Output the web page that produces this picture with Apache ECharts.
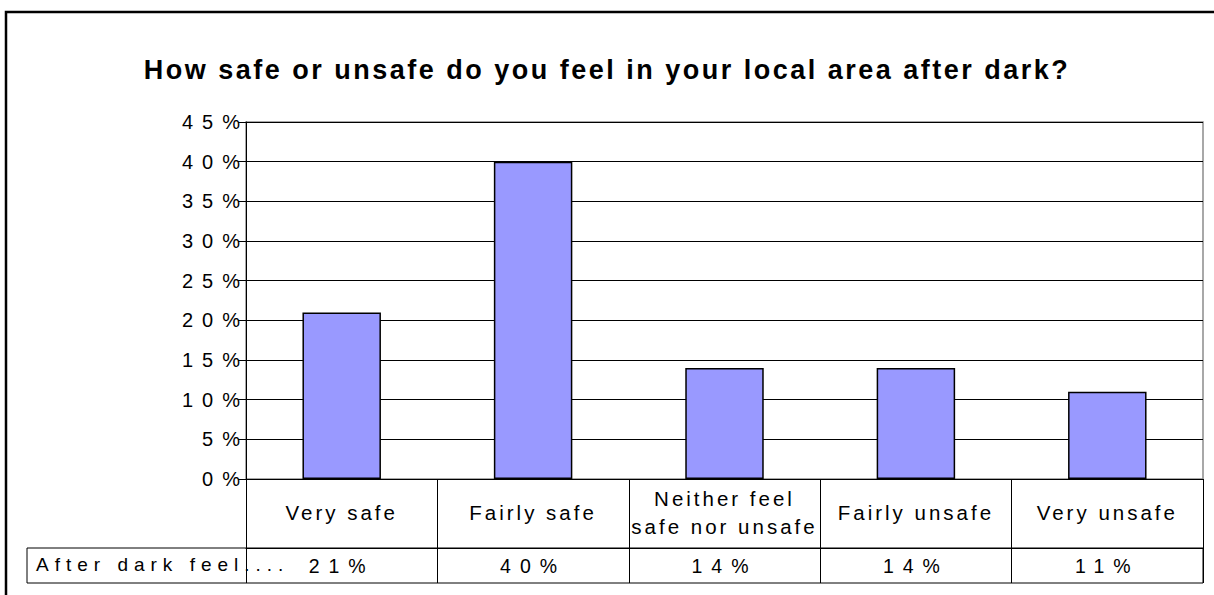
<!DOCTYPE html>
<html>
<head>
<meta charset="utf-8">
<title>How safe or unsafe do you feel in your local area after dark?</title>
<script src="https://cdn.jsdelivr.net/npm/echarts@6.0.0/dist/echarts.min.js"></script>
<style>
  html, body { margin: 0; padding: 0; background: #fff; }
  #chart { width: 1214px; height: 595px; }
  /* the source picture has widely spaced letters */
  #chart text[style*="27px"] { letter-spacing: 2.5px; }
  #chart text[style*="20px"] { letter-spacing: 9px; }
  #chart text[style*="20.5px"] { letter-spacing: 3px; }
  #chart text[style*="19.5px"] { letter-spacing: 9px; }
  #chart text[style*="19px"] { letter-spacing: 6px; }
</style>
</head>
<body>
<div id="chart"></div>
<script>
  // data
  var categories = ['Very safe', 'Fairly safe', 'Neither feel\nsafe nor unsafe', 'Fairly unsafe', 'Very unsafe'];
  var values = [21, 40, 14, 14, 11];
  var seriesName = 'After dark feel....';
  var yTicks = [0, 5, 10, 15, 20, 25, 30, 35, 40, 45];

  // layout
  var W = 1214, H = 595;
  var plotLeft = 246, plotRight = 1203, plotTop = 122, plotBottom = 479;
  var catRowH = 69, valRowH = 35, cellLeft = 27;
  var font = "'Liberation Sans', Arial, sans-serif";

  var chart = echarts.init(document.getElementById('chart'), null, {renderer: 'svg'});

  chart.setOption({
    backgroundColor: '#fff',
    animation: false,
    title: {
      text: 'How safe or unsafe do you feel in your local area after dark?',
      left: 'center',
      top: 51,
      textStyle: {fontFamily: font, fontSize: 27, fontWeight: 'bold', color: '#000'}
    },
    grid: {
      left: plotLeft,
      right: W - plotRight,
      top: plotTop,
      bottom: H - plotBottom,
      show: true,
      borderColor: '#8c8c8c',
      borderWidth: 1.5,
      backgroundColor: '#fff'
    },
    xAxis: [
      {
        type: 'category',
        data: categories,
        axisLine: {lineStyle: {color: '#000', width: 1}},
        axisTick: {show: true, interval: 0, length: catRowH + valRowH, lineStyle: {color: '#000', width: 1}},
        axisLabel: {
          interval: 0,
          margin: catRowH / 2 - 1,
          verticalAlign: 'middle',
          lineHeight: 28,
          fontFamily: font,
          fontSize: 20.5,
          color: '#000'
        }
      },
      {
        // value row of the data table
        type: 'category',
        data: categories,
        position: 'bottom',
        offset: catRowH,
        axisLine: {lineStyle: {color: '#000', width: 1}},
        axisTick: {show: false},
        axisLabel: {
          interval: 0,
          margin: valRowH / 2,
          verticalAlign: 'middle',
          fontFamily: font,
          fontSize: 19.5,
          color: '#000',
          formatter: function (v, i) {
            return values[i] + '%';
          }
        }
      }
    ],
    yAxis: {
      type: 'value',
      min: yTicks[0],
      max: yTicks[yTicks.length - 1],
      interval: yTicks[1] - yTicks[0],
      axisLine: {show: true, lineStyle: {color: '#000', width: 1}},
      axisTick: {show: true, length: 8, lineStyle: {color: '#000'}},
      splitLine: {show: true, lineStyle: {color: '#000', width: 1}},
      axisLabel: {
        margin: -3,
        fontFamily: font,
        fontSize: 20,
        color: '#000',
        formatter: '{value}%'
      }
    },
    series: [
      {
        name: seriesName,
        type: 'bar',
        data: values,
        barWidth: '41%',
        itemStyle: {color: '#9999ff', borderColor: '#000', borderWidth: 1.5}
      }
    ],
    graphic: [
      {
        // outer frame (only top and left edges are visible)
        type: 'polyline',
        shape: {points: [[6, H], [6, 12], [W, 12]]},
        style: {fill: null, stroke: '#000', lineWidth: 2.5}
      },
      {
        // value row border incl. legend cell
        type: 'rect',
        shape: {x: cellLeft, y: plotBottom + catRowH, width: plotRight - cellLeft, height: valRowH},
        style: {fill: null, stroke: '#000', lineWidth: 1}
      },
      {
        type: 'text',
        left: cellLeft + 9,
        top: plotBottom + catRowH + valRowH / 2 - 11,
        style: {text: seriesName, fontFamily: font, fontSize: 19, fill: '#000'}
      }
    ]
  });
</script>
</body>
</html>
